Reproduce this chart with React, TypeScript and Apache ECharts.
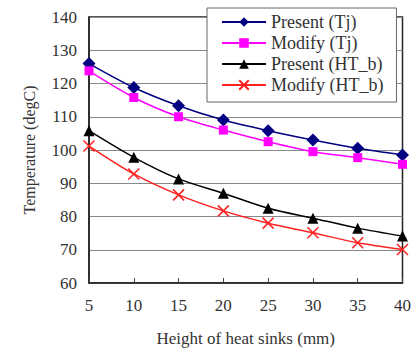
import React, { useEffect, useRef } from "react";
import * as echarts from "echarts";

const heights = [5, 10, 15, 20, 25, 30, 35, 40];
const presentTj = [126, 118.8, 113.3, 109, 105.8, 103, 100.5, 98.5];
const modifyTj = [123.8, 115.8, 110, 106, 102.5, 99.5, 97.7, 95.7];
const presentHTb = [105.8, 97.8, 91.3, 87, 82.5, 79.5, 76.5, 74.1];
const modifyHTb = [101.2, 92.8, 86.5, 81.7, 78, 75.1, 72.1, 70.1];
const seriesNames = ["Present (Tj)", "Modify (Tj)", "Present (HT_b)", "Modify (HT_b)"];

const FONT = "Liberation Serif";

export default function App() {
  const ref = useRef<HTMLDivElement>(null);
  useEffect(() => {
    if (!ref.current) return;
    const chart = echarts.init(ref.current, null, { renderer: "svg" });
    const pairs = (vals: number[]) => heights.map((h, i) => [h, vals[i]]);
    const mk = (name: string, vals: number[], color: string, symbol: string, size: number, extra: any = {}) => ({
      name,
      type: "line",
      data: pairs(vals),
      smooth: 0.3,
      symbol,
      symbolSize: size,
      lineStyle: { color, width: 1.5 },
      itemStyle: { color, ...extra },
    });
    chart.setOption({
      animation: false,
      backgroundColor: "#fff",
      textStyle: { fontFamily: FONT },
      grid: { left: 89, top: 17, right: 9, bottom: 70, show: true, borderColor: "#222", borderWidth: 1.5, backgroundColor: "transparent" },
      legend: {
        orient: "vertical",
        left: 207,
        top: 8,
        padding: [5, 13, 8, 14],
        itemGap: 3,
        itemWidth: 44,
        itemHeight: 12,
        backgroundColor: "#fff",
        borderColor: "#666",
        borderWidth: 1,
        textStyle: { fontFamily: FONT, fontSize: 18, color: "#333" },
        data: seriesNames,
      },
      xAxis: {
        type: "value",
        min: 5,
        max: 40,
        interval: 5,
        name: "Height of heat sinks (mm)",
        nameLocation: "middle",
        nameGap: 47,
        nameTextStyle: { fontFamily: FONT, fontSize: 17, color: "#333" },
        axisLine: { lineStyle: { color: "#222", width: 1.5 } },
        axisTick: { inside: true, length: 5, lineStyle: { color: "#444" } },
        axisLabel: { fontFamily: FONT, fontSize: 17, color: "#333", margin: 14 },
        splitLine: { show: false },
      },
      yAxis: {
        type: "value",
        min: 60,
        max: 140,
        interval: 10,
        name: "Temperature (degC)",
        nameLocation: "middle",
        nameGap: 52,
        nameTextStyle: { fontFamily: FONT, fontSize: 16, color: "#333" },
        axisLine: { show: true, lineStyle: { color: "#222", width: 1.5 } },
        axisTick: { show: false },
        axisLabel: { fontFamily: FONT, fontSize: 17, color: "#333", margin: 12 },
        splitLine: { lineStyle: { color: "#888", width: 1 } },
      },
      series: [
        mk(seriesNames[0], presentTj, "#000080", "diamond", 13),
        mk(seriesNames[1], modifyTj, "#ff00ff", "rect", 9),
        mk(seriesNames[2], presentHTb, "#000000", "triangle", 11),
        mk(seriesNames[3], modifyHTb, "#ff2020", "path://M0,0L10,10M10,0L0,10", 11, {
          color: "none",
          borderColor: "#ff2020",
          borderWidth: 1.5,
        }),
      ],
    });
    return () => chart.dispose();
  }, []);
  return <div ref={ref} style={{ width: 414, height: 353, position: "absolute", left: 0, top: 0 }} />;
}
